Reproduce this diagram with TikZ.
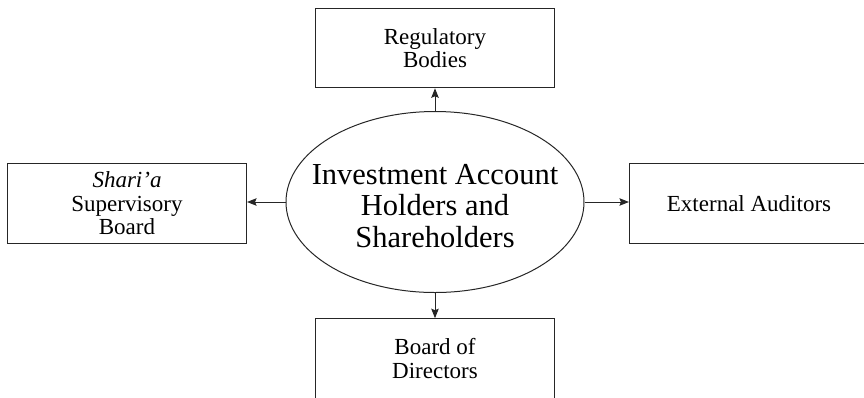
\documentclass[tikz,border=0pt]{standalone}
\usepackage{fontspec}
\setmainfont{Liberation Serif}
\usetikzlibrary{shapes.geometric,arrows.meta}
\tikzset{
  boxnode/.style={draw=black!85, line width=1.1pt, rectangle, inner sep=0pt,
    minimum width=239pt, minimum height=79.5pt, align=center,
    font=\fontsize{23}{23.5}\selectfont},
  ellnode/.style={draw=black!85, line width=1pt, ellipse, inner sep=0pt,
    minimum width=298pt, minimum height=181pt},
  elltext/.style={align=center, inner sep=0pt,
    font=\fontsize{30.5}{31.5}\selectfont},
  arr/.style={draw=black!85, line width=1pt, -{Stealth[length=9.5pt,width=7.5pt,inset=1.5pt]}}
}
\begin{document}
\begin{tikzpicture}[x=1pt,y=-1pt]
\useasboundingbox (0,0) rectangle (864,397);
\node[ellnode] (ell) at (435,202) {};
\node[elltext, yshift=-4pt] (elltxt) at (ell.center) {Investment Account\\Holders and\\Shareholders};
\node[boxnode] (top) at (435,48) {Regulatory\\Bodies};
\node[boxnode] (left) at (127,203.5) {\textit{Shari’a}\\Supervisory\\Board};
\node[boxnode] (right) at (749,203.5) {External Auditors};
\node[boxnode] (bottom) at (435,358.5) {Board of\\Directors};
\draw[arr] (ell.north) -- (top.south);
\draw[arr] (ell.south) -- (bottom.north);
\draw[arr] (ell.west) -- (ell.west -| left.east);
\draw[arr] (ell.east) -- (ell.east -| right.west);
\end{tikzpicture}
\end{document}
